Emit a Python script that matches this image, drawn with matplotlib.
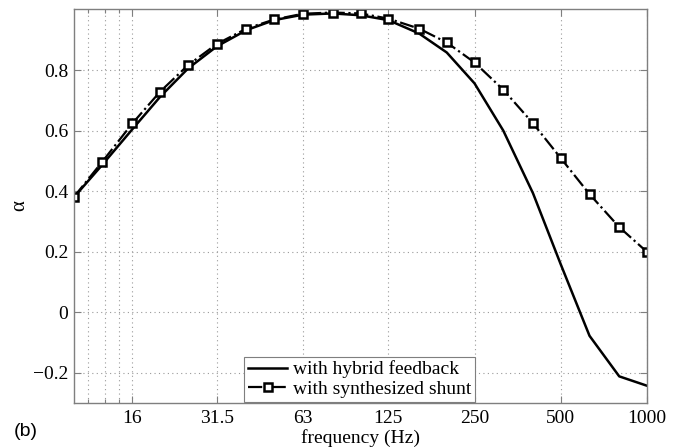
import matplotlib
matplotlib.use("Agg")
import matplotlib.pyplot as plt

# 1/3-octave band centre frequencies (Hz)
freqs = [10, 12.5, 16, 20, 25, 31.5, 40, 50, 63, 80, 100, 125, 160, 200,
         250, 315, 400, 500, 630, 800, 1000]

# absorption coefficient, hybrid feedback
alpha_hybrid = [0.38, 0.485, 0.605, 0.712, 0.805, 0.878, 0.932, 0.965, 0.983,
                0.987, 0.981, 0.965, 0.921, 0.858, 0.756, 0.600, 0.393, 0.158,
                -0.078, -0.212, -0.243]

# absorption coefficient, synthesized shunt
alpha_shunt = [0.381, 0.495, 0.624, 0.729, 0.816, 0.886, 0.937, 0.967, 0.986,
               0.990, 0.987, 0.970, 0.937, 0.891, 0.825, 0.735, 0.624, 0.509,
               0.390, 0.281, 0.199]

xticks = [16, 31.5, 63, 125, 250, 500, 1000]
xtick_labels = ["16", "31.5", "63", "125", "250", "500", "1000"]
xminor = [11.2, 12.8, 14.4]
yticks = [-0.2, 0, 0.2, 0.4, 0.6, 0.8]
ytick_labels = ["\u22120.2", "0", "0.2", "0.4", "0.6", "0.8"]

serif = "Liberation Serif"
frame = "#7f7f7f"

fig = plt.figure(figsize=(6.86, 4.48), dpi=100)
ax = fig.add_axes([74 / 686, 45 / 448, 573 / 686, 393.5 / 448])

ax.plot(freqs, alpha_hybrid, color="black", lw=1.8, label="with hybrid feedback")
ax.plot(freqs, alpha_shunt, color="black", lw=1.6, ls="-.", marker="s",
        ms=5.5, mfc="white", mec="black", mew=1.8, label="with synthesized shunt")

ax.set_xscale("log")
ax.set_xlim(10, 1000)
ax.set_ylim(-0.3, 1.0)
ax.set_xticks(xticks)
ax.set_xticklabels(xtick_labels)
ax.set_xticks(xminor, minor=True)
ax.set_xticklabels([], minor=True)
ax.set_yticks(yticks)
ax.set_yticklabels(ytick_labels)

for lab in ax.get_xticklabels() + ax.get_yticklabels():
    lab.set_fontfamily(serif)
    lab.set_fontsize(14)

ax.tick_params(which="both", direction="in", top=True, right=True,
               color=frame, length=5, width=0.8)
ax.tick_params(which="minor", length=3)
ax.tick_params(axis="x", pad=5)
ax.tick_params(axis="y", pad=4)

ax.grid(True, which="major", ls=(0, (1, 3)), color="#9a9a9a", lw=0.8)
ax.grid(True, which="minor", axis="x", ls=(0, (1, 3)), color="#9a9a9a", lw=0.8)

for sp in ax.spines.values():
    sp.set_color(frame)
    sp.set_linewidth(1.0)

# axis labels placed like the original
fig.text(360.5 / 686, 1 - 438 / 448, "frequency (Hz)", family=serif,
         fontsize=14, ha="center", va="center")
fig.text(20 / 686, 1 - 206 / 448, "\u03b1", family=serif, fontsize=15,
         rotation=90, ha="center", va="center")

leg = ax.legend(loc="lower center", bbox_to_anchor=(0.4985, 0.003),
                prop={"family": serif, "size": 14}, fancybox=False,
                framealpha=1, edgecolor=frame, borderpad=0.2,
                labelspacing=0.1, handlelength=2.0, handletextpad=0.3,
                borderaxespad=0)
leg.get_frame().set_linewidth(0.8)

fig.text(14 / 686, 1 - 431 / 448, "(b)", family="Liberation Sans",
         fontsize=14, va="center")

fig.savefig("out.png", dpi=100)
